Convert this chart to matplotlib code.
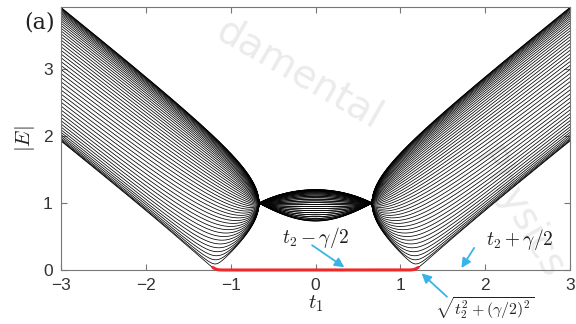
import numpy as np
import matplotlib
matplotlib.use("Agg")
import matplotlib.pyplot as plt

plt.rcParams['mathtext.fontset'] = 'cm'

t2 = 1.0
gamma = 4.0 / 3.0          # t2-gamma/2 ~ 0.34, t2+gamma/2 ~ 1.66, sqrt(t2^2+(gamma/2)^2) ~ 1.2
n_cells = 50
t1_values = np.linspace(-3.0, 3.0, 601)
x_ticks = [-3, -2, -1, 0, 1, 2, 3]
y_ticks = [0, 1, 2, 3]
annot_points = [0.34, 1.72, 1.25]   # arrow targets on the t1 axis


def spectrum(t1):
    tp = np.sqrt(complex(t1 ** 2 - gamma ** 2 / 4))
    size = 2 * n_cells
    H = np.zeros((size, size), dtype=complex)
    for n in range(n_cells):
        H[2 * n, 2 * n + 1] = H[2 * n + 1, 2 * n] = tp
        if n < n_cells - 1:
            H[2 * n + 1, 2 * n + 2] = H[2 * n + 2, 2 * n + 1] = t2
    if abs(tp.imag) < 1e-12:
        ev = np.linalg.eigvalsh(H.real)
    else:
        ev = np.linalg.eigvals(H)
    ev = np.sort(np.abs(ev))
    return ev[::2]


E = np.array([spectrum(t) for t in t1_values])

fig = plt.figure(figsize=(5.76, 3.24), dpi=100)
ax = fig.add_axes([61 / 576, 1 - 270 / 324, (570 - 61) / 576, (270 - 7) / 324])

# faint watermark (below the curves)
ax.text(0.52, 0.77, "damental", fontsize=28, color='#ebebeb', rotation=-30,
        ha='center', va='center', family='DejaVu Sans', zorder=0,
        transform=fig.transFigure, clip_on=False)
ax.text(0.90, 0.34, "Physics", fontsize=28, color='#ebebeb', rotation=-60,
        ha='center', va='center', family='DejaVu Sans', zorder=0,
        transform=fig.transFigure, clip_on=False)

for i in range(E.shape[1]):
    ax.plot(t1_values, E[:, i], color='black', lw=0.55, zorder=2)

tc = np.sqrt(t2 ** 2 + (gamma / 2) ** 2)
mask = np.abs(t1_values) <= tc + 0.01
ax.plot(t1_values[mask], E[mask, 0], color='#f02828', lw=2.2, zorder=4,
        solid_capstyle='round', clip_on=False)

ax.set_xlim(-3, 3)
ax.set_ylim(0, 3.93)
ax.set_xticks(x_ticks)
ax.set_yticks(y_ticks)
ax.tick_params(direction='in', length=4, width=0.8, colors='#777777',
               labelcolor='#333333', labelsize=12.5, top=True, right=True,
               pad=6)
for lab in ax.get_xticklabels() + ax.get_yticklabels():
    lab.set_family('Liberation Sans')
for s in ax.spines.values():
    s.set_color('#777777')
    s.set_linewidth(0.8)

ax.set_xlabel(r'$t_1$', fontsize=15, labelpad=0, color='#222222')
ax.set_ylabel(r'$|E|$', fontsize=15, labelpad=4, color='#222222')

arrow_kw = dict(arrowstyle='-|>', color='#3ab4e8', lw=1.3,
                mutation_scale=14, shrinkA=0, shrinkB=0)
ax.annotate('', xy=(annot_points[0], 0.04), xytext=(-0.04, 0.37),
            arrowprops=arrow_kw, zorder=5)
ax.annotate('', xy=(annot_points[1], 0.03), xytext=(1.87, 0.33),
            arrowprops=arrow_kw, zorder=5)
ax.annotate('', xy=(annot_points[2], -0.05), xytext=(1.55, -0.40),
            arrowprops=arrow_kw, zorder=5, annotation_clip=False)

ax.text(0.0, 0.49, r'$t_2-\gamma/2$', fontsize=14, ha='center', va='center',
        color='#222222')
ax.text(2.41, 0.45, r'$t_2+\gamma/2$', fontsize=14, ha='center', va='center',
        color='#222222')
ax.text(2.0, -0.57, r'$\sqrt{t_2^2+(\gamma/2)^2}$', fontsize=11.5, ha='center',
        va='center', color='#222222', clip_on=False)

fig.text(40 / 576, 1 - 22 / 324, '(a)', fontsize=16, family='DejaVu Serif',
         ha='center', va='center', color='#222222')

fig.savefig('out.png', dpi=100)
